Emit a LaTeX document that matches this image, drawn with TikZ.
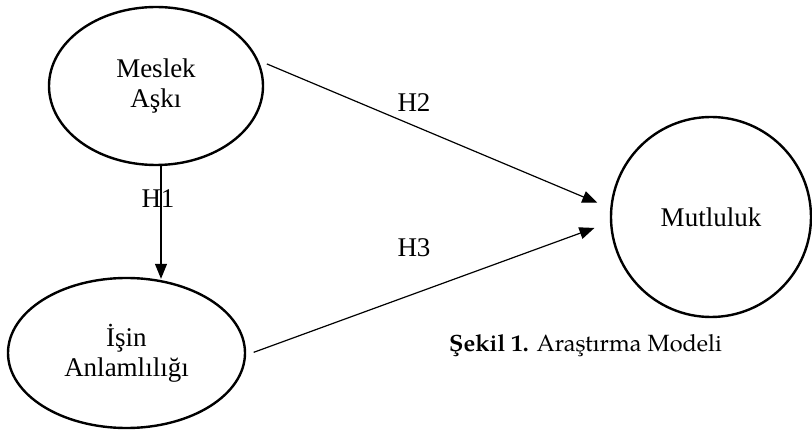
\documentclass[tikz,border=0pt]{standalone}
\usepackage{fontspec}
\setmainfont{Liberation Serif}
\newfontfamily\capfont{texgyrepagella}[Extension=.otf,UprightFont=*-regular,BoldFont=*-bold]
\usetikzlibrary{arrows.meta,shapes.geometric}
\begin{document}
\begin{tikzpicture}[x=1pt,y=-1pt,
  oval/.style={draw, line width=2.4pt, ellipse, inner sep=0pt, align=center,
    font=\fontsize{27}{30}\selectfont},
  rund/.style={draw, line width=2.4pt, circle, inner sep=0pt,
    font=\fontsize{27}{30}\selectfont},
  lbl/.style={anchor=base, inner sep=0pt, font=\fontsize{27}{30}\selectfont},
  arr/.style={line width=1.2pt, -{Triangle[length=15pt,width=12pt]}}]
\useasboundingbox (0,0) rectangle (812,430);
\node[oval, minimum width=214pt, minimum height=158pt] (m) at (156,86) {Meslek\\Aşkı};
\node[oval, minimum width=237pt, minimum height=150pt] (i) at (126.5,353) {İşin\\Anlamlılığı};
\node[rund, minimum size=200pt] (c) at (711,217) {Mutluluk};
\node[lbl] (h1) at (158,208) {H1};
\node[lbl] (h2) at (414,112) {H2};
\node[lbl] (h3) at (414,257) {H3};
\draw[arr] ([xshift=5pt]m.south) -- ([xshift=34.5pt,yshift=-2pt]i.north);
\draw[arr, shorten <=9pt, shorten >=14pt] (m.14) -- (c.175);
\draw[arr, shorten <=8pt, shorten >=16.5pt] (i.-1) -- (c.183);
\node[anchor=base east, inner sep=0pt, font=\capfont\fontsize{23.5}{28}\selectfont] (cap) at (722,352) {\textbf{Şekil 1.} Araştırma Modeli};
\end{tikzpicture}
\end{document}
